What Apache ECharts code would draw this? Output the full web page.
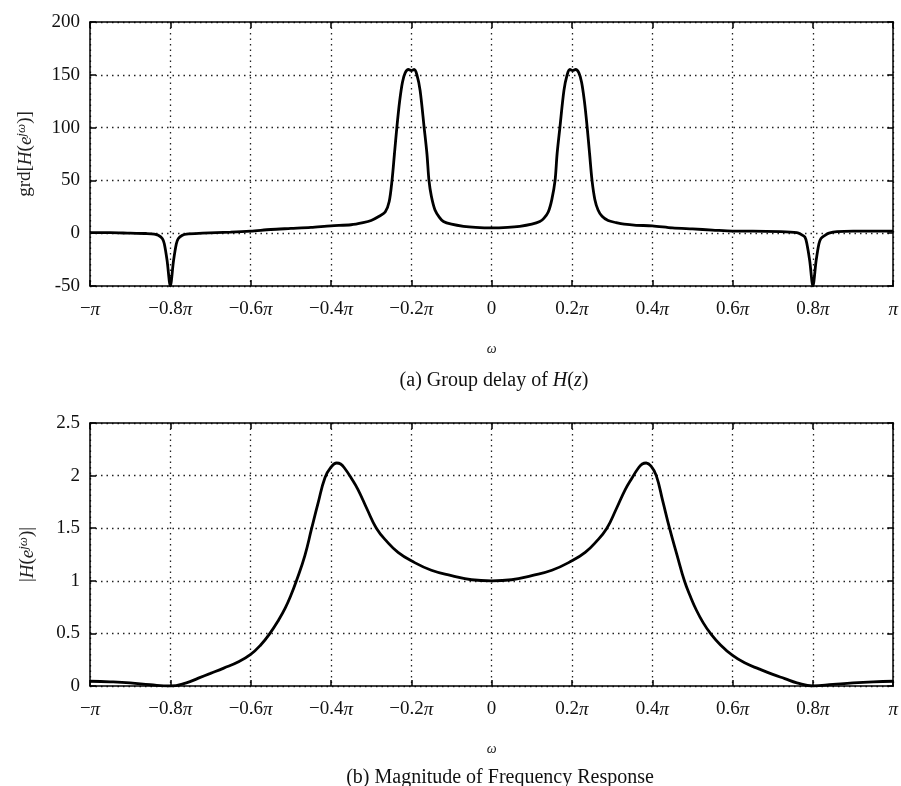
<!DOCTYPE html>
<html>
<head>
<meta charset="utf-8">
<script src="https://cdn.jsdelivr.net/npm/echarts@6/dist/echarts.min.js"></script>
<style>
  html, body { margin: 0; padding: 0; background: #fff; }
  #main { width: 901px; height: 786px; }
</style>
</head>
<body>
<div id="main"></div>
<script>
// frequency in units of pi
var delayW = [-1.00, -0.95, -0.90, -0.86, -0.84, -0.83, -0.82, -0.815, -0.808, -0.80, -0.792, -0.785, -0.78, -0.77,
    -0.76, -0.72, -0.65, -0.60, -0.55, -0.50, -0.45, -0.40, -0.35, -0.32, -0.30, -0.28, -0.265, -0.255, -0.248,
    -0.242, -0.236, -0.229, -0.222, -0.215, -0.207, -0.2, -0.193, -0.186, -0.178, -0.168, -0.161, -0.156, -0.15,
    -0.141, -0.13, -0.12, -0.10, -0.07, -0.04, 0.00, 0.04, 0.07, 0.10, 0.12, 0.13, 0.141, 0.15, 0.158, 0.163,
    0.17, 0.18, 0.188, 0.195, 0.202, 0.209, 0.217, 0.224, 0.231, 0.238, 0.244, 0.25, 0.257, 0.265, 0.275, 0.29,
    0.31, 0.33, 0.36, 0.40, 0.45, 0.50, 0.55, 0.60, 0.65, 0.72, 0.76, 0.77, 0.78, 0.785, 0.792, 0.80, 0.808,
    0.815, 0.82, 0.83, 0.84, 0.86, 0.90, 0.95, 1.00];
var delayVal = [0.5, 0.5, 0, -0.3, -0.8, -2, -5, -10, -26, -50, -26, -10, -5, -2,
    -0.8, 0, 1, 2, 3.5, 4.5, 5.5, 7, 8, 10, 12, 16, 20, 30, 50,
    75, 100, 125, 143, 152, 155, 154, 155, 150, 135, 100, 75, 50, 35,
    22, 15, 11, 8.5, 6.5, 5.5, 5, 5.5, 6.5, 8.5, 11, 14, 20, 32, 50, 75,
    100, 135, 150, 155, 154, 155, 152, 143, 125, 100, 75, 50, 32, 22, 16, 12,
    10, 8.5, 7.5, 7, 5, 4, 3, 2, 2, 1.5, 0.5, -1, -3.5, -10, -26, -50, -26,
    -10, -5, -2, 0, 1.5, 2, 2, 2];

var magW = [-1.00, -0.95, -0.90, -0.85, -0.80, -0.76, -0.73, -0.70, -0.667, -0.63, -0.60, -0.575, -0.552, -0.53,
    -0.514, -0.50, -0.486, -0.465, -0.448, -0.432, -0.415, -0.40, -0.386, -0.376, -0.366, -0.35, -0.333, -0.31,
    -0.287, -0.26, -0.233, -0.20, -0.15, -0.10, -0.05, 0.00, 0.05, 0.10, 0.15, 0.20, 0.233, 0.26, 0.287, 0.31,
    0.333, 0.35, 0.365, 0.375, 0.385, 0.397, 0.41, 0.426, 0.443, 0.462, 0.48, 0.495, 0.51, 0.527, 0.545, 0.57,
    0.60, 0.63, 0.667, 0.70, 0.73, 0.76, 0.80, 0.85, 0.90, 0.95, 1.00];
var magVal = [0.045, 0.04, 0.03, 0.012, 0.0, 0.03, 0.075, 0.12, 0.17, 0.23, 0.30, 0.39, 0.5, 0.63,
    0.74, 0.86, 1.0, 1.24, 1.5, 1.74, 1.98, 2.08, 2.12, 2.11, 2.07, 1.98, 1.87, 1.68,
    1.5, 1.37, 1.27, 1.19, 1.1, 1.05, 1.01, 1.0, 1.01, 1.05, 1.1, 1.19, 1.27, 1.37, 1.5, 1.68,
    1.87, 1.98, 2.07, 2.11, 2.12, 2.09, 2.0, 1.76, 1.5, 1.24, 1.0, 0.85, 0.72, 0.6, 0.5, 0.39,
    0.29, 0.22, 0.16, 0.11, 0.07, 0.03, 0.0, 0.015, 0.03, 0.04, 0.045];

var delayTicks = [-50, 200, 50];
var magTicks = [0, 2.5, 0.5];

var chart = echarts.init(document.getElementById('main'));

var serif = 'Liberation Serif';

function piLabel(v) {
    var r = Math.round(v * 10) / 10;
    if (r === 0) return '{n|0}';
    if (r === 1) return '{p|π}';
    if (r === -1) return '{n|−}{p|π}';
    var s = Math.abs(r).toFixed(1);
    return '{n|' + (r < 0 ? '−' : '') + s + '}{p|π}';
}

var labelRich = {
    n: { fontFamily: serif, fontSize: 19, color: '#111' },
    p: { fontFamily: serif, fontSize: 19, fontStyle: 'italic', color: '#111' }
};

var nameRich = {
    n: { fontFamily: serif, fontSize: 19, color: '#222' },
    i: { fontFamily: serif, fontSize: 19, fontStyle: 'italic', color: '#222' },
    s: { fontFamily: serif, fontSize: 13, fontStyle: 'italic', color: '#222', padding: [0, 0, 8, 0] }
};

function bottomX(grid) {
    return {
        type: 'value', gridIndex: grid, min: -1, max: 1, interval: 0.2,
        name: 'ω', nameLocation: 'middle', nameGap: 56,
        nameTextStyle: { fontFamily: serif, fontStyle: 'italic', fontSize: 14, color: '#222' },
        axisLine: { show: true, onZero: false, lineStyle: { color: '#000', width: 1.5 } },
        axisTick: { show: true, inside: true, length: 6, lineStyle: { color: '#000', width: 1.5 } },
        axisLabel: { margin: 14, formatter: piLabel, rich: labelRich },
        splitLine: { show: true, lineStyle: { color: '#222', type: [1.5, 4], width: 1.3 } }
    };
}

function topX(grid) {
    return {
        type: 'value', gridIndex: grid, position: 'top', min: -1, max: 1, interval: 0.2,
        axisLine: { show: true, onZero: false, lineStyle: { color: '#000', width: 1.5 } },
        axisTick: { show: true, inside: true, length: 6, lineStyle: { color: '#000', width: 1.5 } },
        axisLabel: { show: false },
        splitLine: { show: false }
    };
}

function leftY(grid, ticks, nameText, gap) {
    return {
        type: 'value', gridIndex: grid, min: ticks[0], max: ticks[1], interval: ticks[2],
        name: nameText, nameLocation: 'middle', nameGap: gap, nameRotate: 90,
        nameTextStyle: { rich: nameRich },
        axisLine: { show: true, onZero: false, lineStyle: { color: '#000', width: 1.5 } },
        axisTick: { show: true, inside: true, length: 6, lineStyle: { color: '#000', width: 1.5 } },
        axisLabel: { margin: 10, fontFamily: serif, fontSize: 19, color: '#111' },
        splitLine: { show: true, lineStyle: { color: '#222', type: [1.5, 4], width: 1.3 } }
    };
}

function rightY(grid, ticks) {
    return {
        type: 'value', gridIndex: grid, position: 'right', min: ticks[0], max: ticks[1], interval: ticks[2],
        axisLine: { show: true, onZero: false, lineStyle: { color: '#000', width: 1.5 } },
        axisTick: { show: true, inside: true, length: 6, lineStyle: { color: '#000', width: 1.5 } },
        axisLabel: { show: false },
        splitLine: { show: false }
    };
}

function pairs(xs, ys) {
    var out = [];
    for (var i = 0; i < xs.length; i++) {
        out.push([xs[i], ys[i]]);
    }
    return out;
}

var captionRich = {
    n: { fontFamily: serif, fontSize: 20, fill: '#111' },
    i: { fontFamily: serif, fontSize: 20, fontStyle: 'italic', fill: '#111' }
};

var option = {
    backgroundColor: '#fff',
    animation: false,
    grid: [
        { left: 90, top: 22, width: 806, height: 264 },
        { left: 90, top: 423, width: 806, height: 263 }
    ],
    xAxis: [bottomX(0), topX(0), bottomX(1), topX(1)],
    yAxis: [
        leftY(0, delayTicks, '{n|grd[}{i|H}{n|(}{i|e}{s|jω}{n|)]}', 54),
        rightY(0, delayTicks),
        leftY(1, magTicks, '{n||}{i|H}{n|(}{i|e}{s|jω}{n|)|}', 52),
        rightY(1, magTicks)
    ],
    graphic: [
        {
            type: 'text', x: 494, y: 381,
            style: {
                text: '{n|(a) Group delay of }{i|H}{n|(}{i|z}{n|)}',
                rich: captionRich, align: 'center', verticalAlign: 'middle'
            }
        },
        {
            type: 'text', x: 500, y: 778,
            style: {
                text: '{n|(b) Magnitude of Frequency Response}',
                rich: captionRich, align: 'center', verticalAlign: 'middle'
            }
        }
    ],
    series: [
        {
            name: 'grd', type: 'line', xAxisIndex: 0, yAxisIndex: 0,
            data: pairs(delayW, delayVal), showSymbol: false, smooth: 0.3,
            lineStyle: { color: '#000', width: 2.8 }
        },
        {
            name: 'mag', type: 'line', xAxisIndex: 2, yAxisIndex: 2,
            data: pairs(magW, magVal), showSymbol: false, smooth: 0.45,
            lineStyle: { color: '#000', width: 2.8 }
        }
    ]
};

chart.setOption(option);
</script>
</body>
</html>
